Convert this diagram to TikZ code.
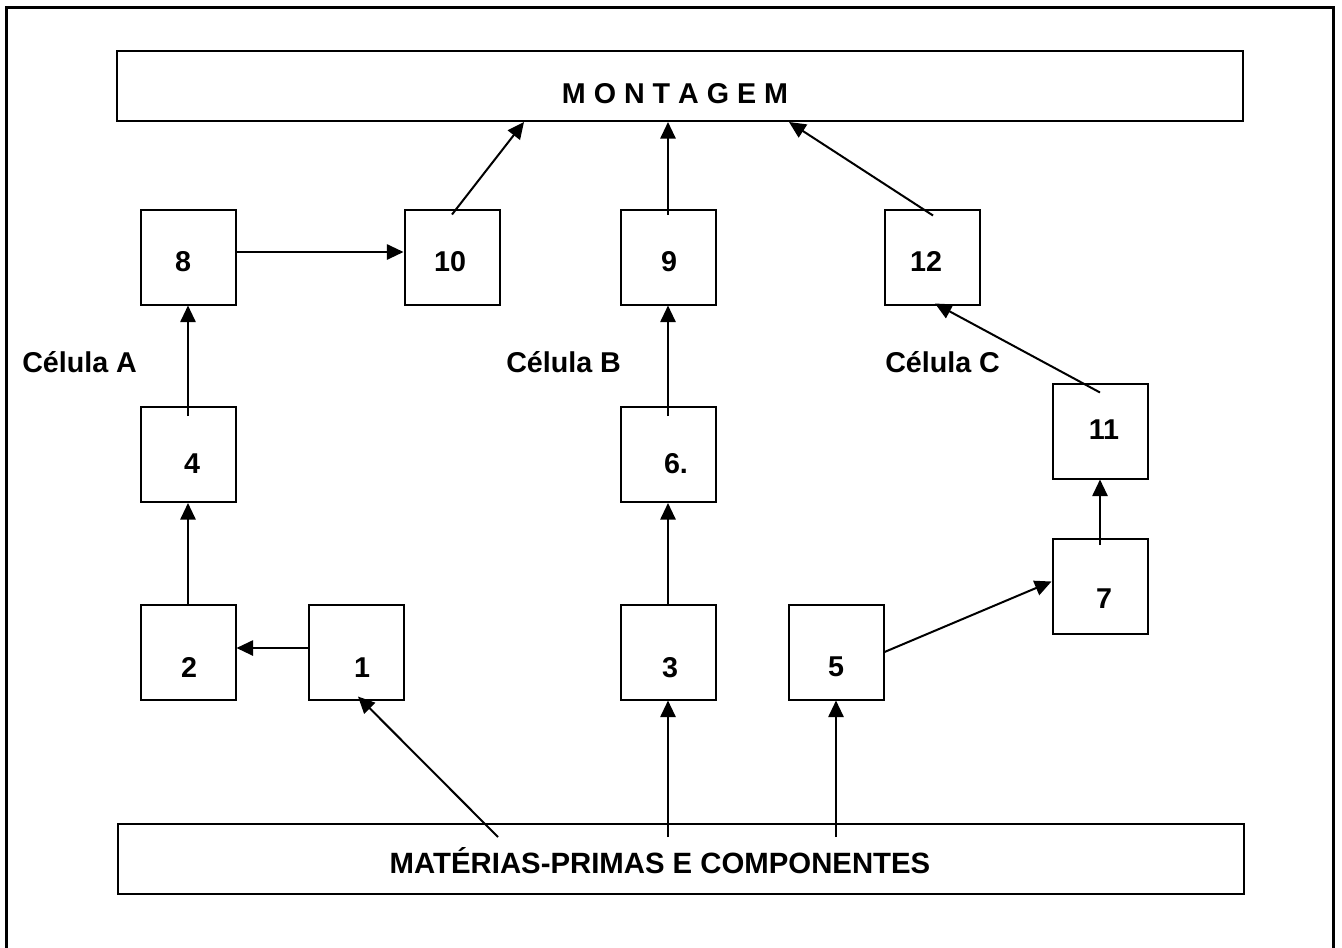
\documentclass[tikz,border=0pt]{standalone}
\usepackage{fontspec}
\setmainfont{Liberation Sans}
\usetikzlibrary{arrows.meta}
\begin{document}
\begin{tikzpicture}[x=0.75pt,y=-0.75pt,
  box/.style={draw,line width=1.5pt,inner sep=0pt,minimum width=71.25pt,minimum height=71.25pt},
  bar/.style={draw,line width=1.5pt,inner sep=0pt,minimum width=844.5pt,minimum height=52.5pt},
  lbl/.style={font=\fontsize{21.5}{25}\selectfont\bfseries,anchor=base,inner sep=0pt},
  cell/.style={font=\fontsize{21.5}{25}\selectfont\bfseries,anchor=base west,inner sep=0pt},
  arr/.style={line width=1.5pt,-{Triangle[length=12.5pt,width=11.5pt]}}
]
\useasboundingbox (0,0) rectangle (1342,947);
\draw[line width=2.25pt,line join=miter] (6.5,970) -- (6.5,7) -- (1333.5,7) -- (1333.5,970);

% bars
\node[bar] (M) at (680,86) {};
\node[bar] (P) at (681,859) {};
\node[lbl] (tM) at (675,103) {M O N T A G E M};
\node[lbl,font=\fontsize{22}{26}\selectfont\bfseries] (tP) at (660,873) {MATÉRIAS-PRIMAS E COMPONENTES};

% boxes
\node[box] (b8) at (188,257) {};
\node[box] (b10) at (452,257) {};
\node[box] (b9) at (668,257) {};
\node[box] (b12) at (932,257) {};
\node[box] (b4) at (188,454.5) {};
\node[box] (b6) at (668,454.5) {};
\node[box] (b11) at (1100,431) {};
\node[box] (b2) at (188,652) {};
\node[box] (b1) at (356,652) {};
\node[box] (b3) at (668,652) {};
\node[box] (b5) at (836,652) {};
\node[box] (b7) at (1100,586.5) {};

% labels
\node[lbl] (t8) at (183,271) {8};
\node[lbl] (t10) at (450,271) {10};
\node[lbl] (t9) at (669,271) {9};
\node[lbl] (t12) at (926,271) {12};
\node[lbl] (t4) at (192,473) {4};
\node[lbl] (t6) at (676,473) {6.};
\node[lbl] (t11) at (1104,439) {11};
\node[lbl] (t2) at (189,677) {2};
\node[lbl] (t1) at (362,677) {1};
\node[lbl] (t3) at (670,677) {3};
\node[lbl] (t5) at (836,676) {5};
\node[lbl] (t7) at (1104,608) {7};

\node[cell] (cA) at (22,372) {Célula A};
\node[cell] (cB) at (506,372) {Célula B};
\node[cell] (cC) at (885,372) {Célula C};

% connectors
\draw[arr] ([shift={(0,-4)}]b1.west) -- ([shift={(0,-4)}]b2.east);
\draw[arr] (b2.north) -- (b4.south);
\draw[arr] ([shift={(0,10)}]b4.north) -- (b8.south);
\draw[arr] ([shift={(0,-5)}]b8.east) -- ([shift={(0,-5)}]b10.west);
\draw[arr] ([shift={(0,6)}]b10.north) -- ([shift={(-156,0)}]M.south);
\draw[arr] ([shift={(0,6)}]b9.north) -- ([shift={(-12,0)}]M.south);
\draw[arr] ([shift={(1,7)}]b12.north) -- ([shift={(109,0)}]M.south);
\draw[arr] ([shift={(0,10)}]b6.north) -- (b9.south);
\draw[arr] (b3.north) -- (b6.south);
\draw[arr] ([shift={(-13,14)}]P.north) -- (b3.south);
\draw[arr] ([shift={(155,14)}]P.north) -- (b5.south);
\draw[arr] ([shift={(-183,14)}]P.north) -- ([shift={(2,-4)}]b1.south);
\draw[arr] (b5.east) -- ([shift={(0,-5)}]b7.west);
\draw[arr] ([shift={(0,7)}]b7.north) -- (b11.south);
\draw[arr] ([shift={(0,10)}]b11.north) -- ([shift={(3,-2)}]b12.south);
\end{tikzpicture}
\end{document}
